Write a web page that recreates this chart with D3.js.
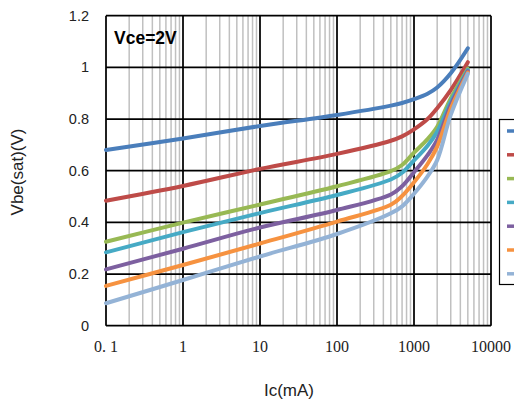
<!DOCTYPE html>
<html>
<head>
<meta charset="utf-8">
<script src="https://cdn.jsdelivr.net/npm/d3@7"></script>
<style>
  body { margin: 0; background: #fff; }
  svg { display: block; }
</style>
</head>
<body>
<div id="chart"></div>
<script>
// Ic values (mA) where the curves were read
const currents = [0.1, 1, 10, 100, 500, 700, 1000, 1500, 2000, 3000, 5000];

const vbeBlue      = [0.680, 0.725, 0.773, 0.816, 0.852, 0.862, 0.877, 0.898, 0.922, 0.977, 1.074];
const vbeRed       = [0.484, 0.541, 0.607, 0.665, 0.716, 0.733, 0.760, 0.800, 0.842, 0.912, 1.020];
const vbeGreen     = [0.325, 0.399, 0.469, 0.540, 0.598, 0.622, 0.670, 0.722, 0.770, 0.880, 0.995];
const vbeTeal      = [0.284, 0.362, 0.436, 0.506, 0.566, 0.592, 0.640, 0.697, 0.751, 0.867, 0.990];
const vbePurple    = [0.218, 0.298, 0.380, 0.448, 0.508, 0.540, 0.594, 0.660, 0.719, 0.854, 0.985];
const vbeOrange    = [0.154, 0.235, 0.318, 0.403, 0.468, 0.502, 0.555, 0.626, 0.693, 0.840, 0.980];
const vbeLightBlue = [0.087, 0.177, 0.268, 0.355, 0.435, 0.462, 0.511, 0.578, 0.641, 0.816, 0.975];

const seriesList = [vbeBlue, vbeRed, vbeGreen, vbeTeal, vbePurple, vbeOrange, vbeLightBlue];
const colors = ["#4A7EBB", "#BE4B48", "#98B954", "#46AAC5", "#7D60A0", "#F69240", "#94B3D6"];

const xTicks = [0.1, 1, 10, 100, 1000, 10000];
const xTickLabels = ["0. 1", "1", "10", "100", "1000", "10000"];
const yTicks = [0, 0.2, 0.4, 0.6, 0.8, 1, 1.2];

const width = 514;
const height = 401;
const plot = { left: 106, right: 491, top: 15.7, bottom: 325.7 };

const svg = d3.select("#chart")
  .append("svg")
  .attr("width", width)
  .attr("height", height);

const xScale = d3.scaleLog().domain([0.1, 10000]).range([plot.left, plot.right]);
const yScale = d3.scaleLinear().domain([0, 1.2]).range([plot.bottom, plot.top]);

// minor vertical grid (2..9 in every decade)
let minor = [];
for (let dec = 0.1; dec < 10000; dec *= 10) {
  for (let k = 2; k <= 9; k++) minor.push(dec * k);
}

const grid = svg.append("g");
grid.selectAll("line.minor")
  .data(minor)
  .join("line")
  .attr("class", "minor")
  .attr("x1", (d) => xScale(d))
  .attr("x2", (d) => xScale(d))
  .attr("y1", plot.top)
  .attr("y2", plot.bottom)
  .attr("stroke", "#c0c0c0")
  .attr("stroke-width", 1.5);

grid.selectAll("line.hmajor")
  .data(yTicks)
  .join("line")
  .attr("class", "hmajor")
  .attr("x1", plot.left)
  .attr("x2", plot.right)
  .attr("y1", (d) => yScale(d))
  .attr("y2", (d) => yScale(d))
  .attr("stroke", "#000")
  .attr("stroke-width", 1.75);

grid.selectAll("line.vmajor")
  .data(xTicks)
  .join("line")
  .attr("class", "vmajor")
  .attr("x1", (d) => xScale(d))
  .attr("x2", (d) => xScale(d))
  .attr("y1", plot.top)
  .attr("y2", plot.bottom)
  .attr("stroke", "#000")
  .attr("stroke-width", 1.75);

// curves (smoothed like the spreadsheet lines)
const line = d3.line()
  .x((d) => xScale(d[0]))
  .y((d) => yScale(d[1]))
  .curve(d3.curveCatmullRom.alpha(0.5));

svg.append("g")
  .selectAll("path")
  .data(seriesList)
  .join("path")
  .attr("d", (s) => line(currents.map((c, i) => [c, s[i]])))
  .attr("fill", "none")
  .attr("stroke", (s, i) => colors[i])
  .attr("stroke-width", 4)
  .attr("stroke-linecap", "round")
  .attr("stroke-linejoin", "round");

// tick labels
svg.append("g")
  .selectAll("text")
  .data(yTicks)
  .join("text")
  .attr("x", 89)
  .attr("y", (d) => yScale(d) + 5)
  .attr("text-anchor", "end")
  .attr("font-family", "Liberation Sans, Arial, sans-serif")
  .attr("font-size", 14.5)
  .attr("fill", "#222")
  .text((d) => d);

svg.append("g")
  .selectAll("text")
  .data(xTicks)
  .join("text")
  .attr("x", (d) => xScale(d))
  .attr("y", 352)
  .attr("text-anchor", "middle")
  .attr("font-family", "Liberation Serif, Times New Roman, serif")
  .attr("font-size", 16)
  .attr("fill", "#222")
  .text((d, i) => xTickLabels[i]);

// axis titles
svg.append("text")
  .attr("x", 289)
  .attr("y", 396)
  .attr("text-anchor", "middle")
  .attr("font-family", "Liberation Sans, Arial, sans-serif")
  .attr("font-size", 17)
  .attr("fill", "#222")
  .text("Ic(mA)");

svg.append("text")
  .attr("transform", "translate(23,172) rotate(-90)")
  .attr("text-anchor", "middle")
  .attr("font-family", "Liberation Sans, Arial, sans-serif")
  .attr("font-size", 17)
  .attr("fill", "#222")
  .text("Vbe(sat)(V)");

svg.append("text")
  .attr("x", 114)
  .attr("y", 43.5)
  .attr("font-family", "Liberation Sans, Arial, sans-serif")
  .attr("font-weight", "bold")
  .attr("font-size", 17.5)
  .attr("fill", "#000")
  .text("Vce=2V");

// legend (cut off at the right edge)
const legend = svg.append("g");
legend.append("rect")
  .attr("x", 499.5)
  .attr("y", 119.5)
  .attr("width", 60)
  .attr("height", 165)
  .attr("fill", "#fff")
  .attr("stroke", "#000")
  .attr("stroke-width", 1.2);

legend.selectAll("line")
  .data(colors)
  .join("line")
  .attr("x1", 507)
  .attr("x2", 530)
  .attr("y1", (d, i) => 131 + i * 23.8)
  .attr("y2", (d, i) => 131 + i * 23.8)
  .attr("stroke", (d) => d)
  .attr("stroke-width", 3.5);
</script>
</body>
</html>
